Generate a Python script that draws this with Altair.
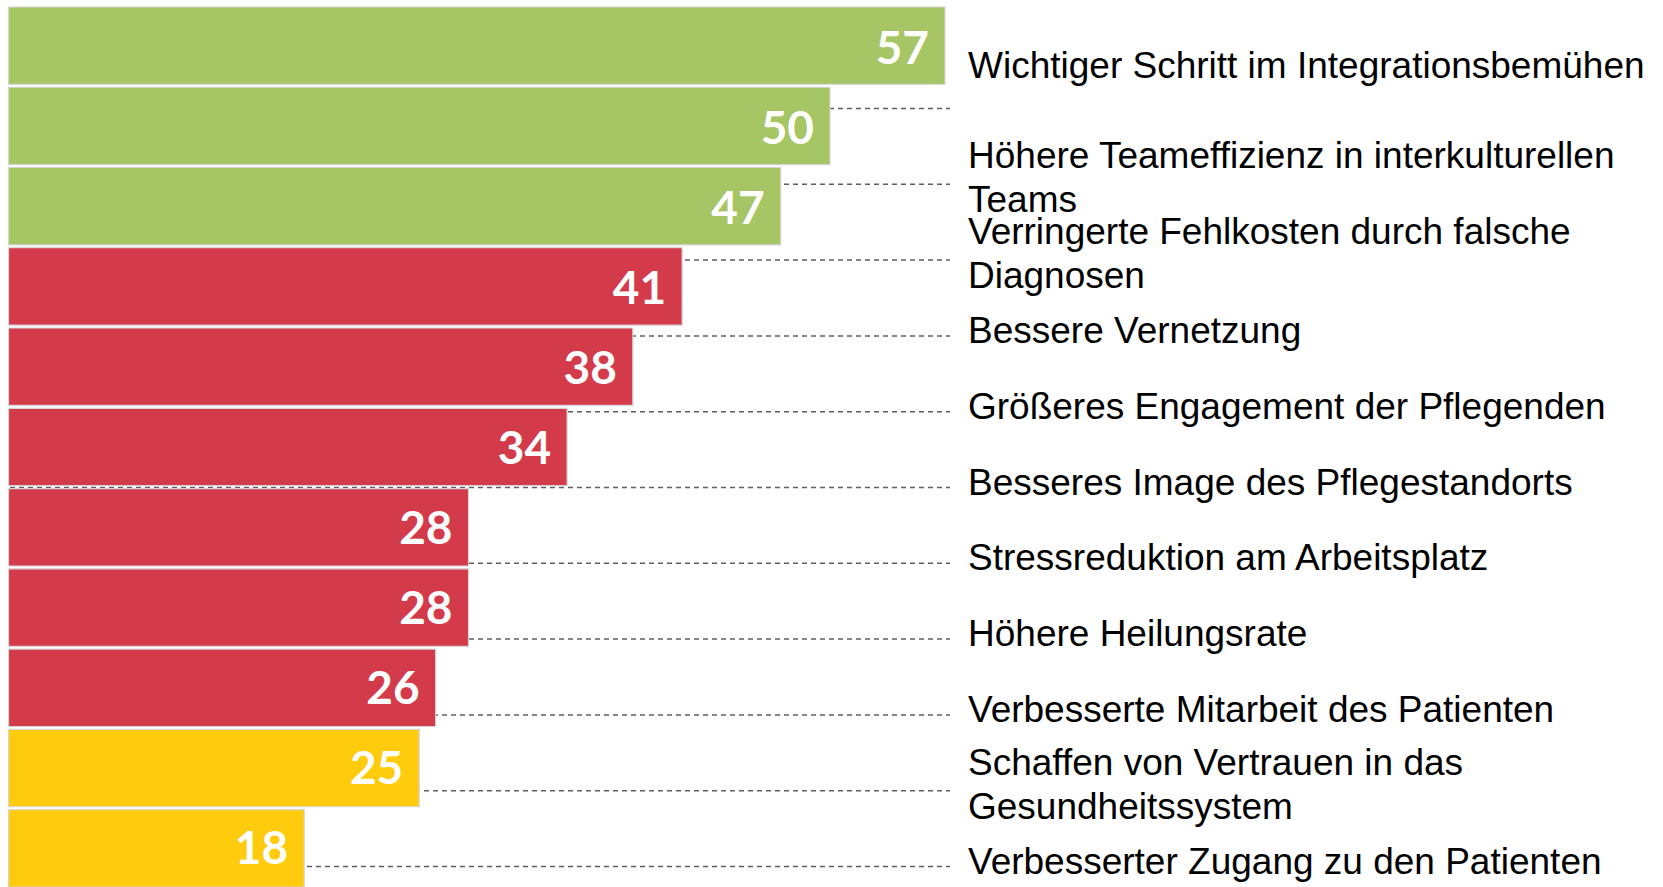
import altair as alt
import pandas as pd

# ---- data ----
categories = [
    "Wichtiger Schritt im Integrationsbemühen",
    "Höhere Teameffizienz in interkulturellen\nTeams",
    "Verringerte Fehlkosten durch falsche\nDiagnosen",
    "Bessere Vernetzung",
    "Größeres Engagement der Pflegenden",
    "Besseres Image des Pflegestandorts",
    "Stressreduktion am Arbeitsplatz",
    "Höhere Heilungsrate",
    "Verbesserte Mitarbeit des Patienten",
    "Schaffen von Vertrauen in das\nGesundheitssystem",
    "Verbesserter Zugang zu den Patienten",
]
values = [57, 50, 47, 41, 38, 34, 28, 28, 26, 25, 18]
groups = ["hoch", "hoch", "hoch", "mittel", "mittel", "mittel",
          "mittel", "mittel", "mittel", "niedrig", "niedrig"]
group_names = ["hoch", "mittel", "niedrig"]
group_colors = ["#A6C665", "#D33A4A", "#FFCB0D"]

df = pd.DataFrame({
    "kategorie": categories,
    "wert": values,
    "gruppe": groups,
    "rang": list(range(len(categories))),
})

base = alt.Chart(df)

x_enc = alt.X("wert:Q", scale=alt.Scale(domain=[0, 100], range=[8.5, 1651.5], nice=False, zero=True), axis=None)
y_bar = alt.Y("kategorie:N", sort=categories,
              scale=alt.Scale(domain=categories, range=[7, 887], paddingInner=0.035, paddingOuter=0),
              axis=None)
y_lbl = alt.Y("kategorie:N", sort=categories,
              scale=alt.Scale(type="point", domain=categories, range=[108.5, 866.5], padding=0),
              axis=None)

rules = base.mark_rule(strokeDash=[5, 4], color="#5f5f5f", strokeWidth=1.5).encode(
    y=y_lbl, x=alt.value(10), x2=alt.value(950)
)

bars = base.mark_bar(stroke="#d6d6d6", strokeWidth=1.2).encode(
    x=x_enc,
    y=y_bar,
    color=alt.Color("gruppe:N", scale=alt.Scale(domain=group_names, range=group_colors), legend=None),
)

nums = base.mark_text(align="right", baseline="middle", dx=-16, dy=3, font="Lato",
                      fontWeight="bold", fontSize=46, color="white").encode(
    x=x_enc, y=y_bar, text="wert:Q"
)

label_style = dict(align="left", baseline="middle", font="Liberation Sans", fontSize=37,
                   lineBreak="\n", lineHeight=44, color="black")

is_multi = "indexof(datum.kategorie, '\\n') >= 0"

labels_single = base.transform_filter(f"datum.rang > 0 && !({is_multi})").mark_text(
    dy=-4, **label_style).encode(y=y_lbl, x=alt.value(968), text="kategorie:N")
labels_multi = base.transform_filter(is_multi).mark_text(
    dy=-27, **label_style).encode(y=y_lbl, x=alt.value(968), text="kategorie:N")
label_first = base.transform_filter("datum.rang == 0").mark_text(
    dy=-42, **label_style).encode(y=y_lbl, x=alt.value(968), text="kategorie:N")

chart = alt.layer(rules, bars, nums, labels_single, labels_multi, label_first).resolve_scale(
    y="independent"
).properties(
    width=1663, height=887, autosize=alt.AutoSizeParams(type="none"), padding=0,
    background="white"
).configure_view(stroke=None)

chart.save("out.html", embed_options={"renderer": "svg", "actions": False})
